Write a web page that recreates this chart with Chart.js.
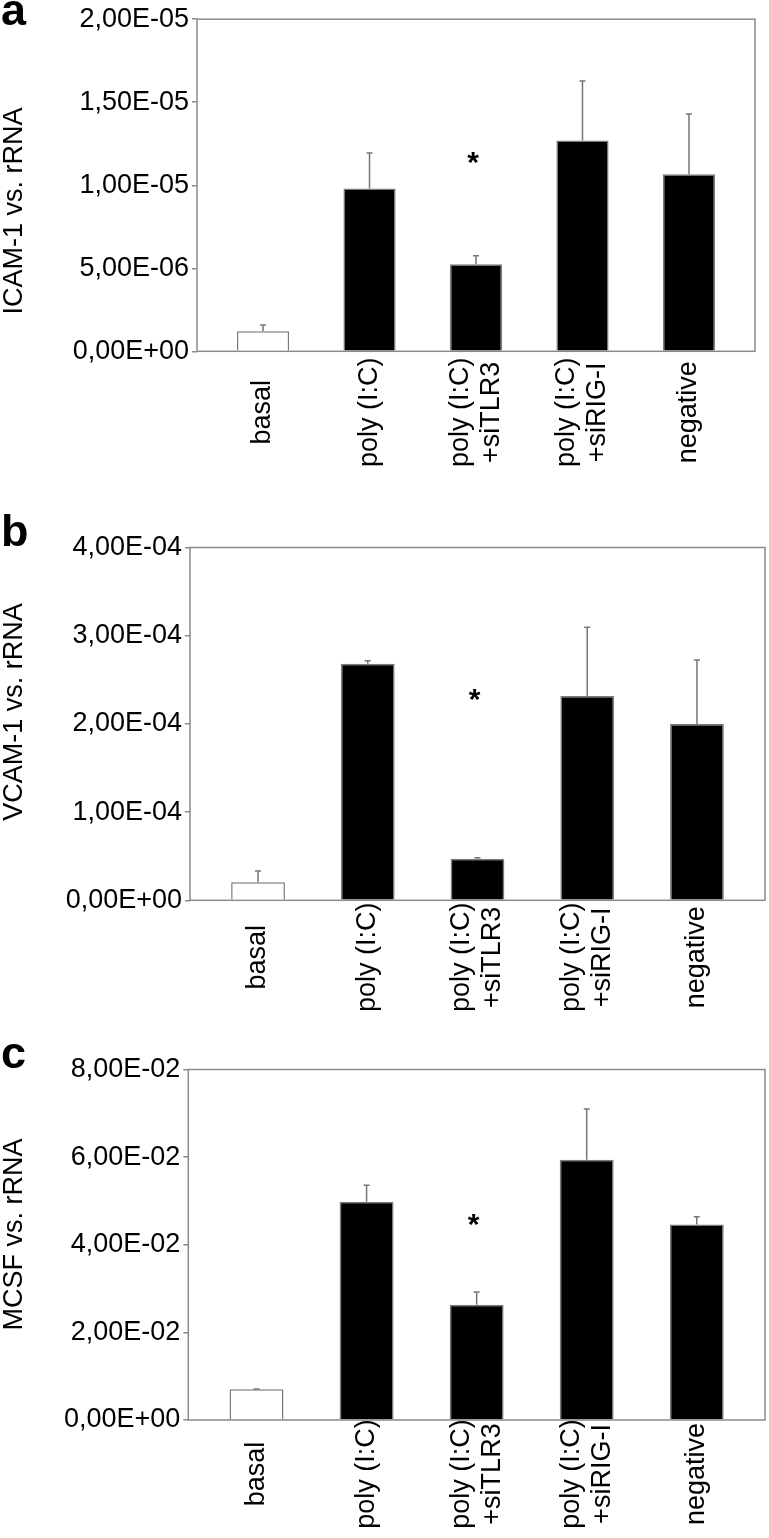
<!DOCTYPE html>
<html><head><meta charset="utf-8">
<script src="https://cdn.jsdelivr.net/npm/chart.js@4"></script>
<style>
html,body{margin:0;padding:0;background:#fff;}
body{width:769px;height:1538px;position:relative;overflow:hidden;}
.panel{position:absolute;left:0;width:769px;}
canvas{display:block;}
</style></head><body>
<div class="panel" style="top:0;height:490px"><canvas id="ca" width="769" height="490"></canvas></div>
<div class="panel" style="top:490px;height:520px"><canvas id="cb" width="769" height="520"></canvas></div>
<div class="panel" style="top:1010px;height:528px"><canvas id="cc" width="769" height="528"></canvas></div>
<script>
// ---- data ----
const categories = [["basal"], ["poly (I:C)"], ["poly (I:C)", "+siTLR3"], ["poly (I:C)", "+siRIG-I"], ["negative"]];

const icamValues = [1.21e-6, 9.81e-6, 5.24e-6, 1.270e-5, 1.066e-5];
const icamErrors = [0.38e-6, 2.13e-6, 0.51e-6, 3.58e-6, 3.63e-6];
const icamTicks = [0, 5e-6, 1e-5, 1.5e-5, 2e-5];
const icamTickLabels = ["0,00E+00", "5,00E-06", "1,00E-05", "1,50E-05", "2,00E-05"];
const icamStar = [2, 1.164e-5];

const vcamValues = [2.04e-5, 2.683e-4, 4.72e-5, 2.316e-4, 1.999e-4];
const vcamErrors = [1.28e-5, 0.34e-5, 0.1e-5, 7.8e-5, 7.26e-5];
const vcamTicks = [0, 1e-4, 2e-4, 3e-4, 4e-4];
const vcamTickLabels = ["0,00E+00", "1,00E-04", "2,00E-04", "3,00E-04", "4,00E-04"];
const vcamStar = [2, 2.33e-4];

const mcsfValues = [0.0070, 0.0498, 0.0263, 0.0594, 0.0446];
const mcsfErrors = [0.0001, 0.0038, 0.0029, 0.0116, 0.0018];
const mcsfTicks = [0, 0.02, 0.04, 0.06, 0.08];
const mcsfTickLabels = ["0,00E+00", "2,00E-02", "4,00E-02", "6,00E-02", "8,00E-02"];
const mcsfStar = [2, 0.0457];

// ---- style ----
const FONT = "'Liberation Sans', Arial, Helvetica, sans-serif";
const GRAY = '#8a8a8a';
const barFill = ['#ffffff', '#000000', '#000000', '#000000', '#000000'];

const decor = {
  id: 'decor',
  beforeDatasetsDraw(chart) {
    const {ctx, chartArea: a} = chart;
    ctx.save();
    ctx.strokeStyle = GRAY;
    ctx.lineWidth = 1.5;
    ctx.strokeRect(a.left, a.top, a.right - a.left, a.bottom - a.top);
    ctx.restore();
  },
  afterDatasetsDraw(chart) {
    const o = chart.options.plugins.decor;
    const {ctx, chartArea: a} = chart;
    const xs = chart.scales.x, ys = chart.scales.y;
    const meta = chart.getDatasetMeta(0);
    ctx.save();
    // error bars
    ctx.strokeStyle = '#777';
    ctx.lineWidth = 1.5;
    meta.data.forEach((bar, i) => {
      const yTop = ys.getPixelForValue(o.values[i] + o.errors[i]);
      ctx.beginPath();
      ctx.moveTo(bar.x, bar.y);
      ctx.lineTo(bar.x, yTop);
      ctx.moveTo(bar.x - 3, yTop);
      ctx.lineTo(bar.x + 3, yTop);
      ctx.stroke();
    });
    // star
    ctx.fillStyle = '#000';
    ctx.font = 'bold 30px ' + FONT;
    ctx.textAlign = 'center';
    ctx.textBaseline = 'alphabetic';
    const m = ctx.measureText('*');
    const sx = xs.getPixelForValue(o.star[0]);
    const sy = ys.getPixelForValue(o.star[1]);
    ctx.fillText('*', sx - 3, sy + (m.actualBoundingBoxAscent - m.actualBoundingBoxDescent) / 2);
    // x labels (rotated)
    ctx.font = '27px ' + FONT;
    ctx.textAlign = 'center';
    ctx.textBaseline = 'middle';
    categories.forEach((lines, i) => {
      const x = xs.getPixelForValue(i);
      ctx.save();
      ctx.translate(x, a.bottom + o.labelOffset);
      ctx.rotate(-Math.PI / 2);
      lines.forEach((ln, k) => {
        ctx.fillText(ln, 0, (k - (lines.length - 1) / 2) * 31);
      });
      ctx.restore();
    });
    // y title
    ctx.save();
    ctx.translate(15, o.titleY);
    ctx.rotate(-Math.PI / 2);
    ctx.fillText(o.title, 0, 0);
    ctx.restore();
    // panel letter
    ctx.font = 'bold 45px ' + FONT;
    ctx.textAlign = 'left';
    ctx.textBaseline = 'alphabetic';
    ctx.fillText(o.letter, 1, o.letterY);
    ctx.restore();
  }
};

function makeChart(id, cfg) {
  const H = cfg.height;
  return new Chart(document.getElementById(id), {
    type: 'bar',
    data: {
      datasets: [{
        data: cfg.values.map((v, i) => ({x: i, y: v})),
        backgroundColor: barFill,
        borderColor: '#7a7a7a',
        borderWidth: 1.5,
        barPercentage: 0.49,
        categoryPercentage: 1
      }]
    },
    options: {
      responsive: false,
      animation: false,
      layout: {padding: {left: 0, right: 769 - cfg.R, top: cfg.T, bottom: 0}},
      plugins: {
        legend: {display: false},
        tooltip: {enabled: false},
        decor: {values: cfg.values, errors: cfg.errors, star: cfg.star, title: cfg.title,
                titleY: cfg.titleY, letter: cfg.letter, letterY: cfg.letterY, labelOffset: cfg.labelOffset}
      },
      scales: {
        x: {
          type: 'linear', min: -0.62, max: 4.62, offset: false,
          afterBuildTicks(s) { s.ticks = categories.map((c, i) => ({value: i})); },
          ticks: {display: false},
          grid: {display: false},
          border: {display: false},
          afterFit(s) { s.height = H - cfg.B; }
        },
        y: {
          min: 0, max: cfg.ticks[cfg.ticks.length - 1],
          afterBuildTicks(s) { s.ticks = cfg.ticks.map(v => ({value: v})); },
          afterFit(s) { s.width = cfg.L; },
          ticks: {
            callback: (v, i) => cfg.tickLabels[i],
            font: {family: FONT, size: 27},
            color: '#000',
            padding: 3,
            autoSkip: false
          },
          grid: {drawOnChartArea: false, drawTicks: true, tickLength: 5, tickColor: GRAY, lineWidth: 1.5},
          border: {display: false}
        }
      }
    },
    plugins: [decor]
  });
}

makeChart('ca', {height: 490, L: 197, R: 755, T: 10.7, B: 351.3,
  values: icamValues, errors: icamErrors, ticks: icamTicks, tickLabels: icamTickLabels, star: icamStar,
  title: 'ICAM-1 vs. rRNA', titleY: 211, letter: 'a', letterY: 25, labelOffset: 61});
makeChart('cb', {height: 520, L: 190, R: 765, T: 57.5, B: 410.3,
  values: vcamValues, errors: vcamErrors, ticks: vcamTicks, tickLabels: vcamTickLabels, star: vcamStar,
  title: 'VCAM-1 vs. rRNA', titleY: 222, letter: 'b', letterY: 56, labelOffset: 57});
makeChart('cc', {height: 528, L: 188.3, R: 765, T: 59.5, B: 410,
  values: mcsfValues, errors: mcsfErrors, ticks: mcsfTicks, tickLabels: mcsfTickLabels, star: mcsfStar,
  title: 'MCSF vs. rRNA', titleY: 224.5, letter: 'c', letterY: 58, labelOffset: 54});
</script>
</body></html>
